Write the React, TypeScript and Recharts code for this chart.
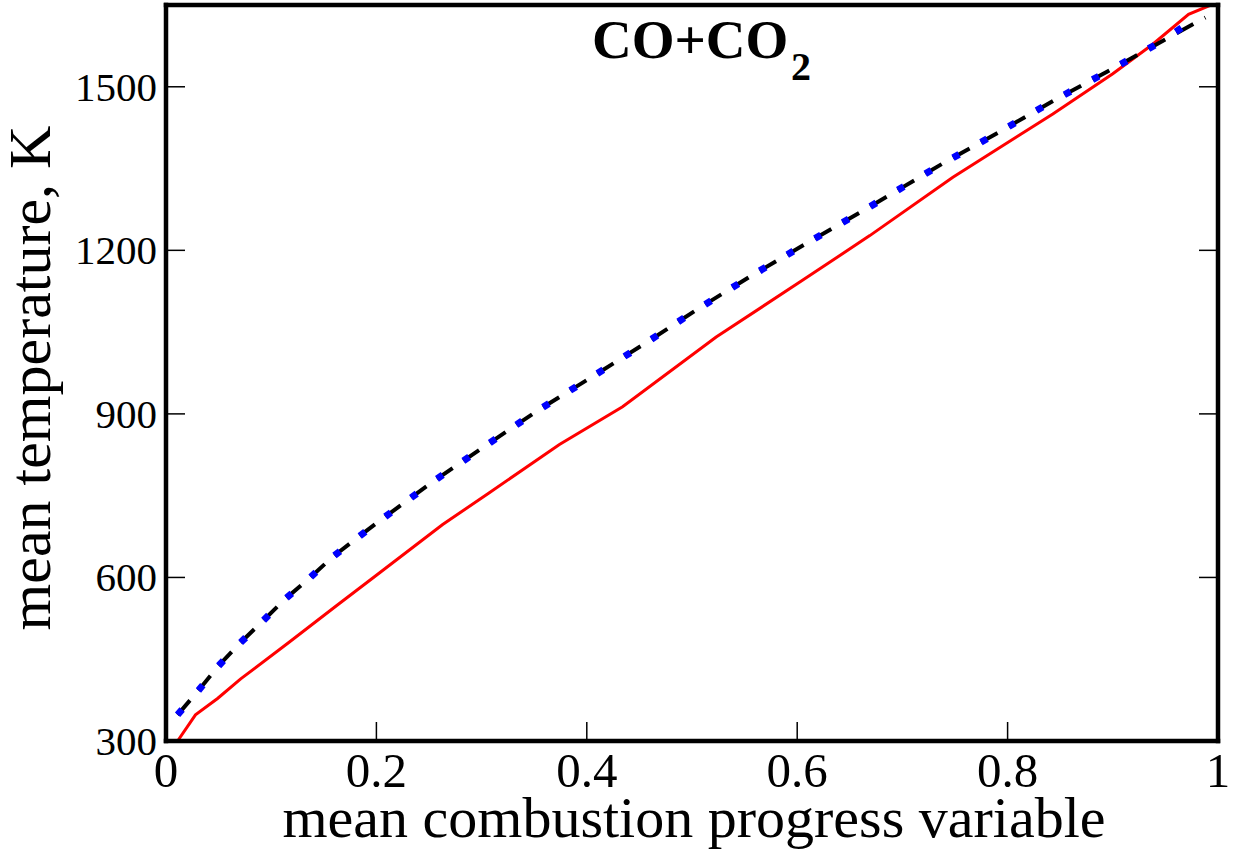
import { LineChart, Line, XAxis, YAxis } from 'recharts';

// axis ticks
const xTicks = [0, 0.2, 0.4, 0.6, 0.8, 1];
const yTicks = [300, 600, 900, 1200, 1500];

// red solid curve
const redX = [0.011, 0.028, 0.049, 0.071, 0.117, 0.162, 0.2, 0.263, 0.307, 0.374, 0.434, 0.523, 0.605, 0.669, 0.748, 0.843, 0.9, 0.938, 0.972, 0.992];
const redY = [300, 348, 378, 414, 481, 548, 604, 697, 755, 844, 913, 1041, 1145, 1227, 1334, 1450, 1524, 1578, 1633, 1649];

// black dashed curve
const dashX = [0.011, 0.031, 0.05, 0.07, 0.092, 0.113, 0.136, 0.158, 0.182, 0.206, 0.254, 0.304, 0.354, 0.405, 0.456, 0.506, 0.557, 0.609, 0.662, 0.739, 0.792, 0.844, 0.897, 0.949, 0.988];
const dashY = [348, 393, 438, 479, 520, 560, 598, 637, 673, 708, 776, 842, 907, 968, 1030, 1093, 1154, 1213, 1272, 1360, 1417, 1475, 1530, 1586, 1627];

// blue dotted curve
const dotX = [0.011, 0.031, 0.05, 0.07, 0.092, 0.113, 0.136, 0.158, 0.182, 0.206, 0.254, 0.304, 0.354, 0.405, 0.456, 0.506, 0.557, 0.609, 0.662, 0.739, 0.792, 0.844, 0.897, 0.949, 0.971];
const dotY = [348, 393, 438, 479, 520, 560, 598, 637, 673, 708, 776, 842, 907, 968, 1030, 1093, 1154, 1213, 1272, 1360, 1417, 1475, 1530, 1586, 1616];

const toPoints = (xs: number[], ys: number[]) => xs.map((x, i) => ({ x, y: ys[i] }));

const redData = toPoints(redX, redY);
const dashData = toPoints(dashX, dashY);
const dotData = toPoints(dotX, dotY);

const FONT = '"Liberation Serif", "Times New Roman", serif';
const TICK_LEN = 19;

// ticks point into the plot, so they are drawn by hand
function BottomTick({ x, y, payload }: any) {
    return (
        <g>
            <line x1={x} y1={y} x2={x} y2={y - TICK_LEN} stroke="#000" strokeWidth={1.5} />
            <text x={x} y={y + 46} textAnchor="middle" fontSize={49} fontFamily={FONT} fill="#000">
                {String(payload.value)}
            </text>
        </g>
    );
}

function TopTick({ x, y }: any) {
    return <line x1={x} y1={y} x2={x} y2={y + TICK_LEN} stroke="#000" strokeWidth={1.5} />;
}

function LeftTick({ x, y, payload }: any) {
    return (
        <g>
            <line x1={x} y1={y} x2={x + TICK_LEN} y2={y} stroke="#000" strokeWidth={1.5} />
            <text x={x - 9} y={y + 14} textAnchor="end" fontSize={41} fontFamily={FONT} fill="#000">
                {String(payload.value)}
            </text>
        </g>
    );
}

function RightTick({ x, y }: any) {
    return <line x1={x} y1={y} x2={x - TICK_LEN} y2={y} stroke="#000" strokeWidth={1.5} />;
}

const frame = { stroke: '#000', strokeWidth: 4.5, strokeLinecap: 'square' as const };

export default function App() {
    return (
        <div style={{ position: 'absolute', left: 0, top: 0, width: 1238, height: 859, background: '#fff' }}>
            <LineChart width={1238} height={859} margin={{ top: 0, right: 0, bottom: 0, left: 0 }}>
                <XAxis
                    xAxisId="bottom"
                    dataKey="x"
                    type="number"
                    domain={[0, 1]}
                    ticks={xTicks}
                    height={118}
                    tickSize={0}
                    tickMargin={0}
                    tickLine={false}
                    axisLine={frame}
                    tick={<BottomTick />}
                    allowDataOverflow
                />
                <XAxis
                    xAxisId="top"
                    orientation="top"
                    type="number"
                    domain={[0, 1]}
                    ticks={xTicks.slice(1, -1)}
                    height={5}
                    tickSize={0}
                    tickMargin={0}
                    tickLine={false}
                    axisLine={frame}
                    tick={<TopTick />}
                    allowDataOverflow
                />
                <YAxis
                    yAxisId="left"
                    dataKey="y"
                    type="number"
                    domain={[300, 1650]}
                    ticks={yTicks}
                    width={166}
                    tickSize={0}
                    tickMargin={0}
                    tickLine={false}
                    axisLine={frame}
                    tick={<LeftTick />}
                    allowDataOverflow
                />
                <YAxis
                    yAxisId="right"
                    orientation="right"
                    type="number"
                    domain={[300, 1650]}
                    ticks={yTicks}
                    width={20}
                    tickSize={0}
                    tickMargin={0}
                    tickLine={false}
                    axisLine={frame}
                    tick={<RightTick />}
                    allowDataOverflow
                />
                <Line
                    xAxisId="bottom"
                    yAxisId="left"
                    data={redData}
                    dataKey="y"
                    type="linear"
                    stroke="#ff0000"
                    strokeWidth={3}
                    dot={false}
                    activeDot={false}
                    isAnimationActive={false}
                />
                <Line
                    xAxisId="bottom"
                    yAxisId="left"
                    data={dashData}
                    dataKey="y"
                    type="linear"
                    stroke="#000"
                    strokeWidth={4}
                    strokeDasharray="19 13"
                    dot={false}
                    activeDot={false}
                    isAnimationActive={false}
                />
                <Line
                    xAxisId="bottom"
                    yAxisId="left"
                    data={dotData}
                    dataKey="y"
                    type="linear"
                    stroke="#0000ff"
                    strokeWidth={7}
                    strokeDasharray="7 25"
                    dot={false}
                    activeDot={false}
                    isAnimationActive={false}
                />
            </LineChart>
            <svg
                width={1238}
                height={859}
                style={{ position: 'absolute', left: 0, top: 0, pointerEvents: 'none' }}
            >
                <text x={592} y={58} fontSize={55} fontWeight="bold" fontFamily={FONT} fill="#000">
                    CO+CO<tspan x={791} y={80} fontSize={40}>2</tspan>
                </text>
                <text x={694} y={837} textAnchor="middle" fontSize={58} fontFamily={FONT} fill="#000">
                    mean combustion progress variable
                </text>
                <text
                    x={50}
                    y={378}
                    transform="rotate(-90 50 378)"
                    textAnchor="middle"
                    fontSize={60}
                    fontFamily={FONT}
                    fill="#000"
                >
                    mean temperature, K
                </text>
            </svg>
        </div>
    );
}
